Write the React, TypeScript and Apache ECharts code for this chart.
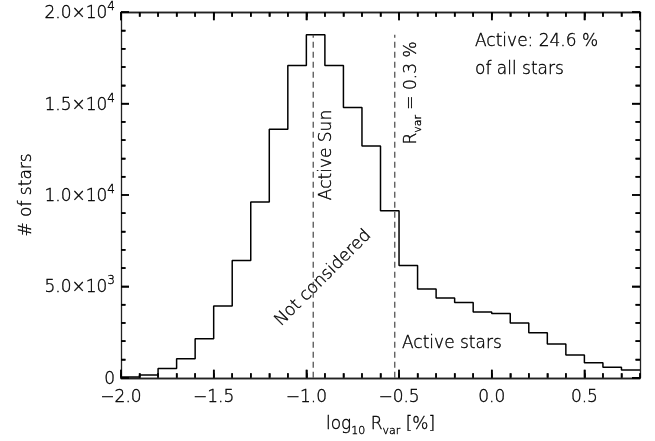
import React, { useEffect, useRef } from "react";
import * as echarts from "echarts";

// Histogram of log10 R_var, bins of 0.1 dex
const binLeftEdges = [
  -2.0, -1.9, -1.8, -1.7, -1.6, -1.5, -1.4, -1.3, -1.2, -1.1,
  -1.0, -0.9, -0.8, -0.7, -0.6, -0.5, -0.4, -0.3, -0.2, -0.1,
  0.0, 0.1, 0.2, 0.3, 0.4, 0.5, 0.6, 0.7,
];
const lastBinRightEdge = 0.8;
const starCounts = [
  40, 150, 500, 1040, 2140, 3920, 6410, 9620, 13590, 17080,
  18770, 17080, 14780, 12680, 9140, 6140, 4860, 4360, 4110, 3600,
  3510, 2990, 2460, 1840, 1250, 820, 570, 430,
];

// Reference thresholds (log10 of R_var in %)
const activeSunLog = -0.963;
const rvarThresholdLog = -0.523;

const yTicks = [0, 5000, 10000, 15000, 20000];
const xTicks = [-2.0, -1.5, -1.0, -0.5, 0.0, 0.5];

const X_MIN = -2.0;
const Y_MAX = 20000;
const X_MINOR = 0.1;
const Y_MINOR = 1000;

const FONT = "'DejaVu Sans ExtraLight', 'DejaVu Sans', 'Liberation Sans', sans-serif";
const FW = 200;
const INK = "#000";
const FS = 17;
const HALO = { textBorderColor: "#000", textBorderWidth: 0.35 };

function fmtX(v: number): string {
  const s = Math.abs(v).toFixed(1);
  return v < -1e-9 ? "\u2212" + s : s;
}

function fmtY(v: number): string {
  if (Math.abs(v) < 1e-9) return "{m|0}";
  const e = Math.floor(Math.log10(v) + 1e-9);
  const m = (v / Math.pow(10, e)).toFixed(1);
  return `{m|${m}\u00d710}{e|${e}}`;
}

function tick(length: number) {
  return { show: true, inside: true, length, lineStyle: { color: "black", width: 1.5 } };
}

export default function App() {
  const ref = useRef<HTMLDivElement>(null);

  useEffect(() => {
    if (!ref.current) return;
    const chart = echarts.init(ref.current, undefined, { renderer: "svg" });

    const histData: [number, number][] = binLeftEdges.map((x, i) => [x, starCounts[i]]);
    histData.push([lastBinRightEdge, starCounts[starCounts.length - 1]]);
    const peak = Math.max(...starCounts);

    const frame = () => ({ show: true, onZero: false, lineStyle: { color: "#222", width: 1.3 } });
    const txt = { fontFamily: FONT, fontWeight: FW, fill: INK, stroke: "#000", lineWidth: 0.35 };

    const dashed = (x: number) => ({
      type: "line",
      xAxisIndex: 0,
      yAxisIndex: 0,
      data: [[x, 0], [x, peak]],
      symbol: "none",
      silent: true,
      lineStyle: { color: "#444", width: 1.2, type: [6, 4] },
    });

    // Frame tick marks: [value, side (0 = horizontal axes, 1 = vertical axes), major flag]
    const tickMarks: [number, number, number][] = [];
    const nX = Math.round((lastBinRightEdge - X_MIN) / X_MINOR);
    for (let i = 0; i <= nX; i++) tickMarks.push([X_MIN + i * X_MINOR, 0, i % 5 === 0 ? 1 : 0]);
    const nY = Math.round(Y_MAX / Y_MINOR);
    for (let j = 0; j <= nY; j++) tickMarks.push([j * Y_MINOR, 1, j % 5 === 0 ? 1 : 0]);

    const renderTick = (_params: any, api: any) => {
      const v = api.value(0);
      const side = api.value(1);
      const len = api.value(2) ? 8 : 4.5;
      const st = () => ({ stroke: "black", lineWidth: 1.5 });
      if (side === 0) {
        const b = api.coord([v, 0]);
        const t = api.coord([v, Y_MAX]);
        return {
          type: "group",
          children: [
            { type: "line", shape: { x1: b[0], y1: b[1], x2: b[0], y2: b[1] - len }, style: st() },
            { type: "line", shape: { x1: t[0], y1: t[1], x2: t[0], y2: t[1] + len }, style: st() },
          ],
        };
      }
      const l = api.coord([X_MIN, v]);
      const r = api.coord([lastBinRightEdge, v]);
      return {
        type: "group",
        children: [
          { type: "line", shape: { x1: l[0], y1: l[1], x2: l[0] + len, y2: l[1] }, style: st() },
          { type: "line", shape: { x1: r[0], y1: r[1], x2: r[0] - len, y2: r[1] }, style: st() },
        ],
      };
    };

    const xAxisBase = (position: string, interval: number, len: number) => ({
      type: "value",
      min: X_MIN,
      max: lastBinRightEdge,
      interval,
      position,
      axisLine: frame(),
      axisTick: tick(len),
      splitLine: { show: false },
      axisLabel: { show: false },
    });

    chart.setOption({
      animation: false,
      grid: { left: 121, right: 15, top: 7, bottom: 59 },
      xAxis: [
        {
          ...xAxisBase("bottom", 0.5, 8),
          axisLabel: {
            show: true,
            margin: 10,
            color: INK,
            fontSize: FS,
            fontFamily: FONT,
            fontWeight: FW,
            ...HALO,
            showMaxLabel: false,
            formatter: (v: number) => (xTicks.some((t) => Math.abs(t - v) < 1e-6) ? fmtX(v) : ""),
          },
          name: "log{s|10} R{s|var} [%]",
          nameLocation: "middle",
          nameGap: 30,
          nameTextStyle: {
            color: INK,
            fontSize: FS,
            fontFamily: FONT,
            fontWeight: FW,
            ...HALO,
            lineHeight: 22,
            rich: {
              s: { fontSize: 11, fontFamily: FONT, fontWeight: FW, color: INK, ...HALO, verticalAlign: "bottom", lineHeight: 26 },
            },
          },
        },
        xAxisBase("bottom", 0.1, 4.5),
        xAxisBase("top", 0.5, 8),
        xAxisBase("top", 0.1, 4.5),
      ],
      yAxis: [
        {
          type: "value",
          min: 0,
          max: Y_MAX,
          interval: 5000,
          position: "left",
          axisLine: frame(),
          axisTick: tick(8),
          minorTick: { show: true, splitNumber: 5, length: 4.5, lineStyle: { color: "black", width: 1.5 } },
          splitLine: { show: false },
          axisLabel: {
            show: true,
            margin: 6,
            formatter: (v: number) => (yTicks.includes(v) ? fmtY(v) : ""),
            rich: {
              m: { fontSize: FS, fontFamily: FONT, fontWeight: FW, color: INK, ...HALO, lineHeight: 24, verticalAlign: "middle" },
              e: { fontSize: 12, fontFamily: FONT, fontWeight: FW, color: INK, ...HALO, lineHeight: 12, verticalAlign: "top" },
            },
          },
          name: "# of stars",
          nameLocation: "middle",
          nameGap: 86,
          nameTextStyle: { color: INK, fontSize: FS, fontFamily: FONT, fontWeight: FW, ...HALO },
        },
        {
          type: "value",
          min: 0,
          max: Y_MAX,
          interval: 5000,
          position: "right",
          axisLine: frame(),
          axisTick: tick(8),
          minorTick: { show: true, splitNumber: 5, length: 4.5, lineStyle: { color: "black", width: 1.5 } },
          splitLine: { show: false },
          axisLabel: { show: false },
        },
      ],
      series: [
        {
          type: "line",
          xAxisIndex: 0,
          yAxisIndex: 0,
          data: histData,
          step: "end",
          symbol: "none",
          silent: true,
          lineStyle: { color: "#000", width: 1.5 },
        },
        dashed(activeSunLog),
        dashed(rvarThresholdLog),
        {
          type: "custom",
          xAxisIndex: 0,
          yAxisIndex: 0,
          silent: true,
          z: 10,
          data: tickMarks,
          encode: { x: 0, y: 1 },
          renderItem: renderTick,
        },
      ],
      graphic: [
        {
          type: "text",
          x: 475,
          y: 40,
          style: { ...txt, text: "Active: 24.6 %", fontSize: FS, align: "left", verticalAlign: "middle" },
        },
        {
          type: "text",
          x: 475,
          y: 68,
          style: { ...txt, text: "of all stars", fontSize: FS, align: "left", verticalAlign: "middle" },
        },
        {
          type: "text",
          x: 325,
          y: 155,
          rotation: Math.PI / 2,
          style: { ...txt, text: "Active Sun", fontSize: FS, align: "center", verticalAlign: "middle" },
        },
        {
          type: "text",
          x: 410,
          y: 93,
          rotation: Math.PI / 2,
          style: {
            text: "{n|R}{s|var}{n| = 0.3 %}",
            align: "center",
            verticalAlign: "middle",
            rich: {
              n: { ...txt, fontSize: FS, lineHeight: 22, verticalAlign: "middle" },
              s: { ...txt, fontSize: 11, lineHeight: 26, verticalAlign: "bottom" },
            },
          },
        },
        {
          type: "text",
          x: 322,
          y: 277,
          rotation: Math.PI / 4,
          style: { ...txt, text: "Not considered", fontSize: FS, align: "center", verticalAlign: "middle" },
        },
        {
          type: "text",
          x: 402,
          y: 342,
          style: { ...txt, text: "Active stars", fontSize: FS, align: "left", verticalAlign: "middle" },
        },
      ],
    });

    return () => chart.dispose();
  }, []);

  return <div ref={ref} style={{ position: "fixed", left: 0, top: 0, width: 655, height: 441 }} />;
}
